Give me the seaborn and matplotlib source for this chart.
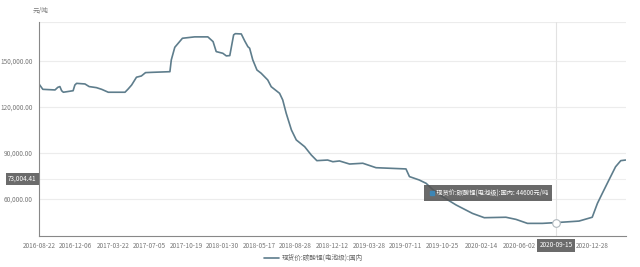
import matplotlib
matplotlib.use("Agg")
import matplotlib.pyplot as plt
import matplotlib.transforms as mtrans
import matplotlib.ticker as mticker
import seaborn as sns
import pandas as pd
import numpy as np

dates = ["2016-08-22", "2016-09-02", "2016-10-07", "2016-10-15", "2016-10-21", "2016-10-26",
         "2016-10-31", "2016-11-28", "2016-12-03", "2016-12-08", "2017-01-01", "2017-01-13",
         "2017-02-03", "2017-02-18", "2017-03-09", "2017-04-26", "2017-05-05", "2017-05-15",
         "2017-05-29", "2017-06-12", "2017-06-24", "2017-07-15", "2017-09-02", "2017-09-06",
         "2017-09-16", "2017-10-08", "2017-11-12", "2017-12-20", "2018-01-04", "2018-01-13",
         "2018-02-01", "2018-02-11", "2018-02-21", "2018-03-04", "2018-03-09", "2018-03-26",
         "2018-04-05", "2018-04-14", "2018-04-19", "2018-04-28", "2018-05-10", "2018-05-22",
         "2018-06-10", "2018-06-20", "2018-07-14", "2018-07-23", "2018-08-02", "2018-08-17",
         "2018-08-31", "2018-09-24", "2018-10-13", "2018-10-29", "2018-11-29", "2018-12-14",
         "2019-01-02", "2019-01-31", "2019-03-10", "2019-04-17", "2019-07-12", "2019-07-22",
         "2019-08-19", "2019-09-08", "2019-09-26", "2019-10-25", "2019-12-03", "2020-01-19",
         "2020-02-22", "2020-04-24", "2020-05-23", "2020-06-25", "2020-08-07", "2020-09-15",
         "2020-11-20", "2020-12-28", "2021-01-12", "2021-01-26", "2021-02-14", "2021-03-05",
         "2021-03-20", "2021-04-03"]
prices = [135000, 131500, 131100, 132800, 133300, 130600,
          129600, 130600, 134300, 135400, 135000, 133300,
          132600, 131500, 129600, 129600, 131700, 134300,
          139400, 140200, 142400, 142600, 143000, 150700,
          158900, 164800, 165700, 165700, 162600, 156100,
          155000, 153300, 153500, 167000, 167800, 167600,
          163000, 159300, 158300, 150700, 144100, 142000,
          137600, 133200, 128900, 124600, 115900, 105000,
          98500, 94100, 88700, 85000, 85400, 84300,
          84800, 82800, 83300, 80400, 79600, 74600,
          72400, 70200, 66300, 61500, 56100, 50600,
          47800, 48100, 46700, 44100, 44100, 44600,
          45600, 48100, 57200, 63700, 72400, 81000,
          85000, 85400]
tick_dates = ["2016-08-22", "2016-12-06", "2017-03-22", "2017-07-05", "2017-10-19", "2018-01-30",
              "2018-05-17", "2018-08-28", "2018-12-12", "2019-03-28", "2019-07-11", "2019-10-25",
              "2020-02-14", "2020-06-02", "2020-09-15", "2020-12-28"]
y_ticks = [60000, 90000, 120000, 150000]
series_name = "现货价:碳酸锂(电池级):国内"
unit = "元/吨"
hover_date = "2020-09-15"
hover_value = 44600
pointer_y = 73004.41

df = pd.DataFrame({"date": pd.to_datetime(dates), "price": prices})

sns.set_style("white")
plt.rcParams["font.family"] = ["Noto Sans CJK SC", "DejaVu Sans"]

fig = plt.figure(figsize=(6.4, 2.67), dpi=100)
ax = fig.add_axes([39/640, 1-236/267, (626-39)/640, (236-22)/267])

line_color = "#5e7d8c"
sns.lineplot(data=df, x="date", y="price", ax=ax, color=line_color, linewidth=1.2,
             label=series_name, legend=False)

ax.set_xlim(pd.Timestamp("2016-08-22"), pd.Timestamp("2021-04-04"))
ax.set_ylim(35870, 175400)

ax.set_yticks(y_ticks)
ax.yaxis.set_major_formatter(mticker.FuncFormatter(lambda v, p: f"{v:,.2f}"))
ax.set_xticks(pd.to_datetime(tick_dates))
ax.set_xticklabels(tick_dates)
ax.tick_params(axis="both", labelsize=4.6, length=2.5, width=0.6, direction="out", pad=2)
ax.tick_params(axis="x", colors="#999999", labelcolor="#777777")
ax.tick_params(axis="y", colors="#999999", labelcolor="#777777")
ax.set_xlabel("")
ax.set_ylabel("")

for v in y_ticks + [175400]:
    ax.axhline(v, color="#ececec", linewidth=0.8, zorder=0)

for s in ["top", "right"]:
    ax.spines[s].set_visible(False)
for s in ["left", "bottom"]:
    ax.spines[s].set_color("#888888")
    ax.spines[s].set_linewidth(0.8)

# axis pointer / crosshair
hd = pd.Timestamp(hover_date)
ax.axvline(hd, color="#e2e2e2", linewidth=0.8, zorder=0)
ax.axhline(pointer_y, color="#eeeeee", linewidth=0.8, zorder=0)
ax.scatter([hd], [hover_value], s=30, facecolor="white", edgecolor="#b0b8bd",
           linewidth=0.8, zorder=5)

ax.text(-0.004, pointer_y, f"{pointer_y:,.2f}", transform=ax.get_yaxis_transform(),
        ha="right", va="center", fontsize=4.6, color="white",
        bbox=dict(boxstyle="square,pad=0.35", fc="#6b6b6b", ec="none"))
ax.text(hd, -0.025, hover_date, transform=ax.get_xaxis_transform(), ha="center", va="top",
        fontsize=4.6, color="white",
        bbox=dict(boxstyle="square,pad=0.35", fc="#6b6b6b", ec="none"))

# tooltip
tip_x = pd.Timestamp("2019-09-14")
ax.text(tip_x, 63900, f"      {series_name}: {hover_value}{unit}", ha="left", va="center",
        fontsize=4.5, color="white", zorder=6,
        bbox=dict(boxstyle="square,pad=0.6", fc="#555555", ec="none", alpha=0.88))
sq_tr = mtrans.offset_copy(ax.transData, fig=fig, x=2.5, y=0, units="points")
ax.plot([tip_x], [63900], marker="s", markersize=3.2, color="#3d86b5", transform=sq_tr,
        zorder=7, linestyle="none")

# unit label
fig.text(33/640, 1-11/267, unit, fontsize=4.8, color="#777777", ha="left", va="center")

# legend
leg = fig.legend(loc="center", bbox_to_anchor=(0.49, 1-258/267), frameon=False,
                 fontsize=4.8, handlelength=2.2, handletextpad=0.5)
for t in leg.get_texts():
    t.set_color("#666666")

fig.savefig("out.png", dpi=100, facecolor="white")
